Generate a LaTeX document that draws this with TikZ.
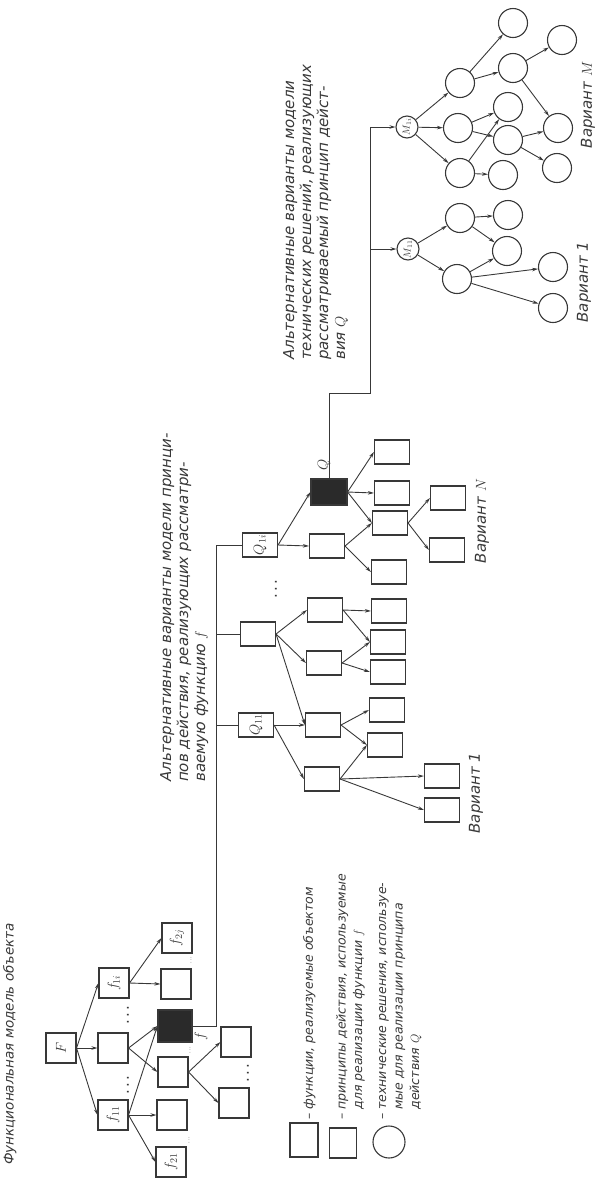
\documentclass[tikz,border=0pt]{standalone}
\usepackage{fontspec}
\usepackage{graphicx}
\setmainfont{DejaVu Sans}
\usetikzlibrary{arrows.meta}
\definecolor{ink}{HTML}{383838}
\definecolor{dark}{HTML}{2A2A2A}
\newcommand{\rlab}[1]{\rotatebox{90}{#1}}
\tikzset{
        fbox/.style={draw,line width=1.1pt,minimum width=30pt,minimum height=30pt,inner sep=0pt,font=\Large},
        pbox/.style={draw,line width=1.1pt,minimum width=35pt,minimum height=24pt,inner sep=0pt,font=\Large},
        tsol/.style={draw,circle,line width=1.1pt,minimum size=29pt,inner sep=0pt},
        msol/.style={draw,circle,line width=1.1pt,minimum size=22pt,inner sep=0pt,font=\normalsize},
        arr/.style={-{Stealth[length=6pt,width=3.5pt]},line width=0.9pt},
        txt/.style={rotate=90,inner sep=0pt,align=left,font=\itshape\fontsize{15}{17}\selectfont},
        leg/.style={rotate=90,inner sep=0pt,align=left,font=\itshape\fontsize{12.5}{16.5}\selectfont},
        pts/.style={inner sep=0pt,font=\fontsize{15}{15}\selectfont},
}
\begin{document}
\begin{tikzpicture}[x=1pt,y=-1pt,color=ink]
        \useasboundingbox (0,0) rectangle (596,1187);
        \def\busf{216} \def\busq{370}

        \node (title) at (3,1165) [txt,anchor=north west,font=\itshape\fontsize{13.5}{16}\selectfont] {Функциональная модель объекта};

        \node (F) at (61,1048) [fbox] {\rlab{$F$}};
        \node (f11) at (113,1115) [fbox] {\rlab{$f_{11}$}};
        \node (fm) at (113,1048) [fbox] {};
        \node (f1i) at (114,983) [fbox] {\rlab{$f_{1i}$}};
        \node (f21) at (171,1162) [fbox] {\rlab{$f_{21}$}};
        \node (fb1) at (172,1115) [fbox] {};
        \node (fb2) at (173,1072) [fbox] {};
        \node (fd) at (175,1026) [fbox,fill=dark,minimum width=34pt,minimum height=32pt] {};
        \node (fb3) at (176,984) [fbox] {};
        \node (f2j) at (177,938) [fbox] {\rlab{$f_{2j}$}};
        \node (fc1) at (234,1103) [fbox] {};
        \node (fc2) at (236,1042) [fbox] {};
        \node (flab) at (201,1036) [txt] {$f$};

        \node (d1) at (128,1085) [pts] {\rlab{.\,.\,.}};
        \node (d2) at (128,1015) [pts] {\rlab{.\,.\,.}};
        \node (d3) at (189,1140) [pts,font=\tiny] {\rlab{.\,.\,.}};
        \node (d4) at (190,1050) [pts,font=\tiny] {\rlab{.\,.\,.}};
        \node (d5) at (191,960) [pts,font=\tiny] {\rlab{.\,.\,.}};
        \node (d6) at (248,1073) [pts] {\rlab{.\,.\,.}};

        \draw[arr] (F.east) -- (f11.west);
        \draw[arr] (F.east) -- (fm.west);
        \draw[arr] (F.east) -- (f1i.west);
        \draw[arr] (f11.east) -- (f21.west);
        \draw[arr] (f11.east) -- (fb1.west);
        \draw[arr] (f11.east) -- (fd.west);
        \draw[arr] (fm.east) -- (fd.west);
        \draw[arr] (fm.east) -- (fb2.west);
        \draw[arr] (f1i.east) -- (fb3.west);
        \draw[arr] (f1i.east) -- (f2j.west);
        \draw[arr] (fb2.east) -- (fc1.west);
        \draw[arr] (fb2.east) -- (fc2.west);

        \node (ptext) at (160,782) [txt,anchor=north west] {Альтернативные варианты модели принци-\\пов действия, реализующих рассматри-\\ваемую функцию $f$};

        \node (Q1i) at (260,545) [pbox] {\rlab{$Q_{1i}$}};
        \node (Qm) at (258,634) [pbox] {};
        \node (Q11) at (256,725) [pbox] {\rlab{$Q_{11}$}};
        \node (d7) at (276,589) [pts] {\rlab{.\,.\,.}};
        \coordinate (bus) at (\busf,545);
        \draw[line width=0.9pt] (fd.east) -| (bus) -- (Q1i.west);
        \draw[line width=0.9pt] (Qm.west -| bus) -- (Qm.west);
        \draw[line width=0.9pt] (Q11.west -| bus) -- (Q11.west);

        \node (Qd) at (329,492) [pbox,fill=dark,minimum width=36pt,minimum height=26pt] {};
        \node (qlab) at (324,465) [txt] {$Q$};
        \node (p1) at (327,546) [pbox] {};
        \node (p2) at (325,610) [pbox] {};
        \node (p3) at (324,663) [pbox] {};
        \node (p4) at (323,725) [pbox] {};
        \node (p5) at (322,779) [pbox] {};
        \node (n1) at (392,452) [pbox] {};
        \node (n2) at (392,493) [pbox] {};
        \node (n3) at (390,523) [pbox] {};
        \node (n4) at (389,572) [pbox] {};
        \node (n5) at (448,498) [pbox] {};
        \node (n6) at (447,550) [pbox] {};
        \node (v1) at (389,611) [pbox] {};
        \node (v2) at (388,642) [pbox] {};
        \node (v3) at (388,672) [pbox] {};
        \node (v4) at (387,710) [pbox] {};
        \node (v5) at (385,745) [pbox] {};
        \node (v6) at (442,776) [pbox] {};
        \node (v7) at (442,810) [pbox] {};

        \draw[arr] (Q1i.east) -- (Qd.west);
        \draw[arr] (Q1i.east) -- (p1.west);
        \draw[arr] (Qm.east) -- (p2.west);
        \draw[arr] (Qm.east) -- (p3.west);
        \draw[arr] (Qm.east) -- (p4.west);
        \draw[arr] (Q11.east) -- (p4.west);
        \draw[arr] (Q11.east) -- (p5.west);
        \draw[arr] (Qd.east) -- (n1.west);
        \draw[arr] (Qd.east) -- (n2.west);
        \draw[arr] (Qd.east) -- (n3.west);
        \draw[arr] (p1.east) -- (n3.west);
        \draw[arr] (p1.east) -- (n4.west);
        \draw[arr] (n3.east) -- (n5.west);
        \draw[arr] (n3.east) -- (n6.west);
        \draw[arr] (p2.east) -- (v1.west);
        \draw[arr] (p2.east) -- (v2.west);
        \draw[arr] (p3.east) -- (v2.west);
        \draw[arr] (p3.east) -- (v3.west);
        \draw[arr] (p4.east) -- (v4.west);
        \draw[arr] (p4.east) -- (v5.west);
        \draw[arr] (p5.east) -- (v5.west);
        \draw[arr] (p5.east) -- (v6.west);
        \draw[arr] (p5.east) -- (v7.west);

        \node (var1) at (476,793) [txt] {Вариант 1};
        \node (varN) at (482,521) [txt] {Вариант $N$};

        \node (ttext) at (283,360) [txt,anchor=north west] {Альтернативные варианты модели\\технических решений, реализующих\\рассматриваемый принцип дейст-\\вия $Q$};

        \node (M1i) at (407,127) [msol] {\rlab{$M_{1i}$}};
        \node (M11) at (408,249) [msol] {\rlab{$M_{11}$}};
        \coordinate (mbus) at (\busq,127);
        \draw[arr] (Qd.north) |- (\busq,393) |- (M1i.west);
        \draw[arr] (M11.west -| mbus) -- (M11.west);

        \node (ca) at (460,218) [tsol] {};
        \node (cb) at (457,279) [tsol] {};
        \node (cc) at (508,215) [tsol] {};
        \node (cd) at (507,251) [tsol] {};
        \node (ce) at (553,267) [tsol] {};
        \node (cf) at (553,308) [tsol] {};
        \draw[arr] (M11) -- (ca);
        \draw[arr] (M11) -- (cb);
        \draw[arr] (ca) -- (cc);
        \draw[arr] (ca) -- (cd);
        \draw[arr] (cb) -- (cd);
        \draw[arr] (cb) -- (ce);
        \draw[arr] (cb) -- (cf);

        \node (cg) at (460,83) [tsol] {};
        \node (ch) at (458,128) [tsol] {};
        \node (ci) at (460,173) [tsol] {};
        \node (cj) at (513,23) [tsol] {};
        \node (ck) at (513,68) [tsol] {};
        \node (cl) at (508,107) [tsol] {};
        \node (cn) at (508,140) [tsol] {};
        \node (co) at (503,175) [tsol] {};
        \node (cp) at (562,40) [tsol] {};
        \node (cr) at (558,128) [tsol] {};
        \node (cs) at (557,168) [tsol] {};
        \draw[arr] (M1i) -- (cg);
        \draw[arr] (M1i) -- (ch);
        \draw[arr] (M1i) -- (ci);
        \draw[arr] (cg) -- (cj);
        \draw[arr] (cg) -- (ck);
        \draw[arr] (ck) -- (cp);
        \draw[arr] (ck) -- (cr);
        \draw[arr] (ch) -- (cl);
        \draw[arr] (ch) -- (cn);
        \draw[arr] (ci) -- (cl);
        \draw[arr] (ci) -- (co);
        \draw[arr] (cn) -- (cr);
        \draw[arr] (cn) -- (cs);

        \node (varM1) at (584,282) [txt] {Вариант 1};
        \node (varM) at (588,105) [txt] {Вариант $M$};

        \node (lf) at (304,1140) [draw,line width=1.1pt,minimum width=28pt,minimum height=34pt] {};
        \node (lq) at (343,1143) [draw,line width=1.1pt,minimum width=27pt,minimum height=30pt] {};
        \node (lm) at (389,1142) [draw,circle,line width=1.1pt,minimum size=32pt,inner sep=0pt] {};
        \node (lt1) at (303,1120) [leg,anchor=north west] {– функции, реализуемые объектом};
        \node (lt2) at (336,1120) [leg,anchor=north west] {– принципы действия, используемые\\\phantom{– }для реализации функции $f$};
        \node (lt3) at (379,1120) [leg,anchor=north west] {– технические решения, используе-\\\phantom{– }мые для реализации принципа\\\phantom{– }действия $Q$};
\end{tikzpicture}
\end{document}
